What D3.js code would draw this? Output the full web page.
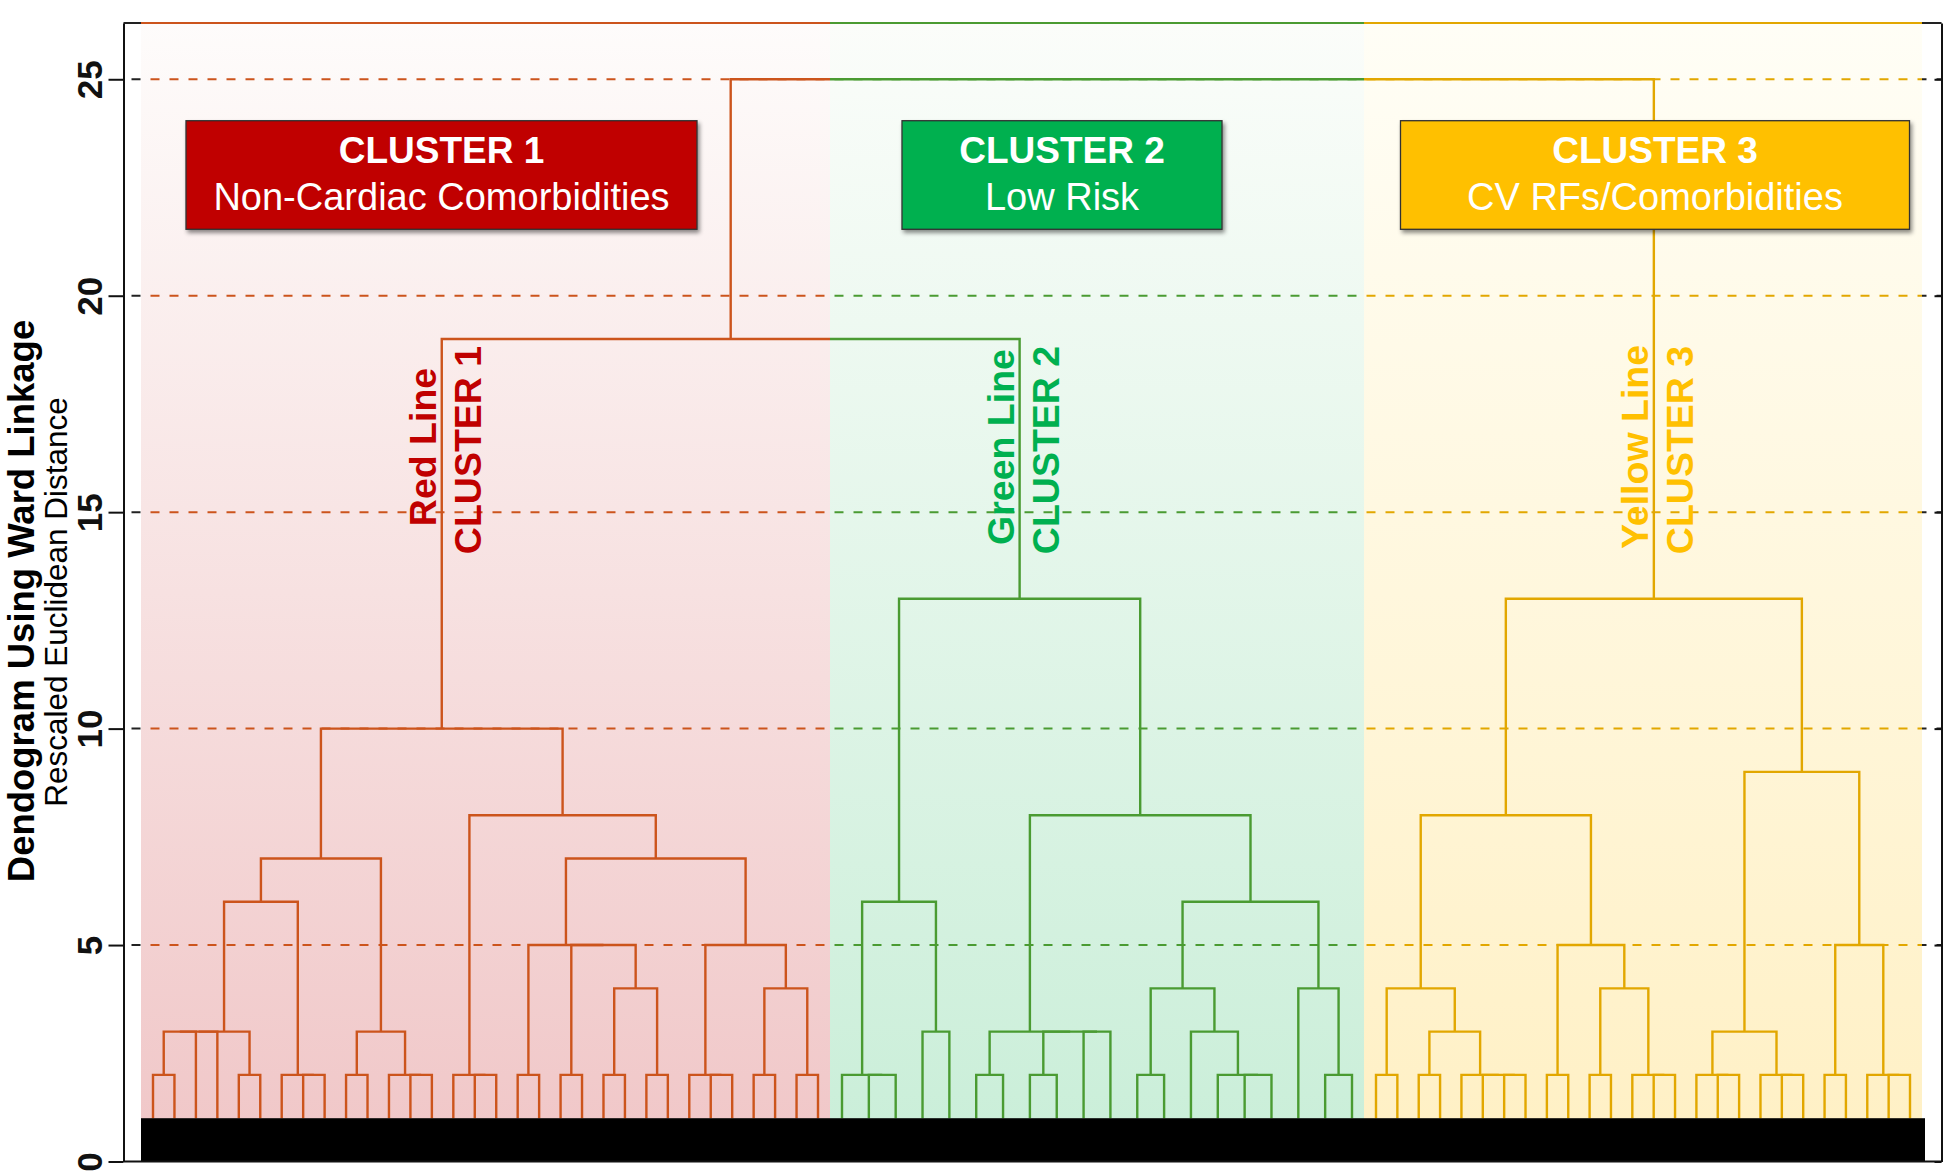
<!DOCTYPE html>
<html><head><meta charset="utf-8">
<script src="https://cdn.jsdelivr.net/npm/d3@7"></script>
<style>
html,body{margin:0;padding:0;background:#fff;}
svg{display:block;font-family:"Liberation Sans", Arial, Helvetica, sans-serif;}
</style></head><body>
<svg id="chart" width="1946" height="1172"></svg>
<script>
// ---------------- DATA ----------------
const clusterNames = ["CLUSTER 1", "CLUSTER 2", "CLUSTER 3"];
const clusterDescriptions = ["Non-Cardiac Comorbidities", "Low Risk", "CV RFs/Comorbidities"];
const lineLabels = ["Red Line", "Green Line", "Yellow Line"];
const leafCounts = [32, 20, 26];
// merge trees: [mergeHeight, left, right]; numbers are leaf indices within the cluster
const cluster1Tree = [10,
  [7,
    [6,
      [3, [3, [3, [2, 0, 1], 2], 3], [2, 4, 5]],
      [2, 6, [2, 7, 8]]],
    [3, [2, 9, 10], [2, 11, [2, 12, 13]]]],
  [8,
    [2, 14, [2, 15, 16]],
    [7,
      [5, [2, 17, 18], [5, [2, 19, 20], [4, [2, 21, 22], [2, 23, 24]]]],
      [5, [2, 25, [2, 26, 27]], [4, [2, 28, 29], [2, 30, 31]]]]]];
const cluster2Tree = [13,
  [6, [2, 0, [2, 1, 2]], [3, 3, 4]],
  [8,
    [3, [2, 5, 6], [3, [2, 7, 8], [3, 9, 10]]],
    [6,
      [4, [2, 11, 12], [3, 13, [2, 14, [2, 15, 16]]]],
      [4, 17, [2, 18, 19]]]]];
const cluster3Tree = [13,
  [8,
    [4, [2, 0, 1], [3, [2, 2, 3], [2, 4, [2, 5, [2, 6, 7]]]]],
    [5, [2, 8, 9], [4, [2, 10, 11], [2, 12, [2, 13, 14]]]]],
  [9,
    [3, [2, 15, [2, 16, 17]], [2, 18, [2, 19, 20]]],
    [5, [2, 21, 22], [2, 23, [2, 24, 25]]]]];
const joinHeights = [19, 25];   // cluster1+cluster2, then +cluster3
const leafHeight = 1;
const yTicks = [0, 5, 10, 15, 20, 25];
const gridValues = [5, 10, 15, 20, 25];
const yMax = 26.3;
const yTitle = "Dendogram Using Ward Linkage";
const ySubtitle = "Rescaled Euclidean Distance";

// ---------------- LAYOUT / STYLE ----------------
const axisLeft = 123.5, axisRight = 1941.5;
const regionEdges = [141, 830, 1364, 1922];
const barRight = 1925;
const leafInset = 12;
const lineColors = ["#cc541c", "#4a9b32", "#e2a700"];
const textColors = ["#c00000", "#00b050", "#ffc000"];
const boxFills = ["#c00000", "#00b050", "#ffc000"];
const bgTop = ["#fefcfb", "#fbfdfa", "#fffef6"];
const bgBottom = ["#f0c6c7", "#c9eed8", "#fff0c4"];
const boxLayout = [{cx: 441.5, w: 511}, {cx: 1062, w: 320}, {cx: 1655, w: 509}];
const boxTop = 120.7, boxH = 108.6;

const svg = d3.select("#chart");
const defs = svg.append("defs");

const y = d3.scaleLinear().domain([0, yMax]).range([1161.5, 23]);

// gradients & clips
regionEdges.slice(0, 3).forEach((x0, k) => {
  const g = defs.append("linearGradient").attr("id", "bg" + k)
    .attr("x1", 0).attr("y1", 0).attr("x2", 0).attr("y2", 1);
  g.append("stop").attr("offset", "0%").attr("stop-color", bgTop[k]);
  g.append("stop").attr("offset", "100%").attr("stop-color", bgBottom[k]);
  defs.append("clipPath").attr("id", "clip" + k)
    .append("rect").attr("x", x0).attr("y", 0)
    .attr("width", regionEdges[k + 1] - x0).attr("height", 1172);
});
const outside = defs.append("clipPath").attr("id", "clipOut");
outside.append("rect").attr("x", 0).attr("y", 0).attr("width", regionEdges[0]).attr("height", 1172);
outside.append("rect").attr("x", regionEdges[3]).attr("y", 0).attr("width", 1946 - regionEdges[3]).attr("height", 1172);

const sh = defs.append("filter").attr("id", "shadow").attr("x", "-10%").attr("y", "-10%").attr("width", "130%").attr("height", "140%");
sh.append("feDropShadow").attr("dx", 2).attr("dy", 3).attr("stdDeviation", 2)
  .attr("flood-color", "#000").attr("flood-opacity", 0.45);

// backgrounds
regionEdges.slice(0, 3).forEach((x0, k) => {
  svg.append("rect").attr("x", x0).attr("y", y(yMax))
    .attr("width", regionEdges[k + 1] - x0).attr("height", y(0) - y(yMax))
    .attr("fill", `url(#bg${k})`);
});

// gridlines: dark outside the coloured regions, coloured inside
function gridLayer(g, color) {
  g.selectAll("line.grid").data(gridValues).join("line").attr("class", "grid")
    .attr("x1", axisLeft).attr("x2", axisRight)
    .attr("y1", d => y(d)).attr("y2", d => y(d))
    .attr("stroke", color).attr("stroke-width", 2)
    .attr("stroke-dasharray", "9 10").attr("stroke-dashoffset", 11);
  g.append("line").attr("x1", axisLeft).attr("x2", axisRight)
    .attr("y1", y(yMax)).attr("y2", y(yMax))
    .attr("stroke", color).attr("stroke-width", 2);
}
gridLayer(svg.append("g").attr("clip-path", "url(#clipOut)"), "#222");
[0, 1, 2].forEach(k => gridLayer(svg.append("g").attr("clip-path", `url(#clip${k})`), lineColors[k]));

// build dendrogram
const trees = [cluster1Tree, cluster2Tree, cluster3Tree];
function build(t, xs) {
  if (typeof t === "number") return {h: leafHeight, x: xs(t)};
  const l = build(t[1], xs), r = build(t[2], xs);
  return {h: t[0], x: (l.x + r.x) / 2, children: [l, r]};
}
const clusterRoots = trees.map((t, k) => {
  const xs = d3.scalePoint().domain(d3.range(leafCounts[k]))
    .range([regionEdges[k] + leafInset, regionEdges[k + 1] - leafInset]);
  return build(t, xs);
});
const n12 = {h: joinHeights[0], x: (clusterRoots[0].x + clusterRoots[1].x) / 2, children: [clusterRoots[0], clusterRoots[1]]};
const root = {h: joinHeights[1], x: (n12.x + clusterRoots[2].x) / 2, children: [n12, clusterRoots[2]]};

const links = [];
(function walk(n) {
  if (!n.children) return;
  const [l, r] = n.children;
  links.push(`M${l.x},${y(l.h)}V${y(n.h)}H${r.x}V${y(r.h)}`);
  walk(l); walk(r);
})(root);

[0, 1, 2].forEach(k => {
  svg.append("g").attr("clip-path", `url(#clip${k})`)
    .selectAll("path").data(links).join("path")
    .attr("d", d => d).attr("fill", "none")
    .attr("stroke", lineColors[k]).attr("stroke-width", 2.4)
    .attr("stroke-linejoin", "miter");
});

// black baseline bar
svg.append("rect").attr("x", regionEdges[0]).attr("y", y(leafHeight))
  .attr("width", barRight - regionEdges[0]).attr("height", y(0) - y(leafHeight))
  .attr("fill", "#000");

// axes
const axL = svg.append("g").attr("transform", `translate(${axisLeft},0)`)
  .call(d3.axisLeft(y).tickValues(yTicks).tickSize(15).tickSizeOuter(0).tickFormat(d3.format("d")));
axL.select(".domain").attr("stroke", "#111").attr("stroke-width", 2);
axL.selectAll(".tick line").attr("stroke", "#111").attr("stroke-width", 2);
axL.selectAll(".tick text")
  .attr("x", null).attr("dy", null).attr("y", null)
  .attr("transform", "translate(-21.8,0) rotate(-90)")
  .attr("text-anchor", "middle")
  .attr("font-family", "'Liberation Sans', Arial, sans-serif")
  .attr("font-size", 35).attr("font-weight", "bold").attr("fill", "#111");
const axR = svg.append("g").attr("transform", `translate(${axisRight},0)`)
  .call(d3.axisRight(y).tickValues(yTicks).tickSize(-7).tickSizeOuter(0).tickFormat(""));
axR.select(".domain").attr("stroke", "#111").attr("stroke-width", 2);
axR.selectAll(".tick line").attr("stroke", "#111").attr("stroke-width", 2);
svg.append("line").attr("x1", axisLeft).attr("x2", axisRight)
  .attr("y1", y(0)).attr("y2", y(0)).attr("stroke", "#111").attr("stroke-width", 2);

// axis titles
svg.append("text").attr("transform", `translate(34,601) rotate(-90)`)
  .attr("text-anchor", "middle").attr("font-size", 36.5).attr("font-weight", "bold")
  .attr("fill", "#000").text(yTitle);
svg.append("text").attr("transform", `translate(67,602) rotate(-90)`)
  .attr("text-anchor", "middle").attr("font-size", 31.5)
  .attr("fill", "#000").text(ySubtitle);

// rotated cluster labels next to each cluster's top stem
clusterRoots.forEach((n, k) => {
  svg.append("text").attr("transform", `translate(${n.x - 5.5},447) rotate(-90)`)
    .attr("text-anchor", "middle").attr("font-size", 37.5).attr("font-weight", "bold")
    .attr("fill", textColors[k]).text(lineLabels[k]);
  svg.append("text").attr("transform", `translate(${n.x + 39.5},450) rotate(-90)`)
    .attr("text-anchor", "middle").attr("font-size", 37.5).attr("font-weight", "bold")
    .attr("fill", textColors[k]).text(clusterNames[k]);
});

// cluster boxes
boxLayout.forEach((b, k) => {
  const g = svg.append("g");
  g.append("rect").attr("x", b.cx - b.w / 2).attr("y", boxTop)
    .attr("width", b.w).attr("height", boxH)
    .attr("fill", boxFills[k]).attr("stroke", "#333").attr("stroke-width", 1.3)
    .attr("filter", "url(#shadow)");
  g.append("text").attr("x", b.cx).attr("y", 163).attr("text-anchor", "middle")
    .attr("font-size", 37).attr("font-weight", "bold").attr("fill", "#fff")
    .text(clusterNames[k]);
  g.append("text").attr("x", b.cx).attr("y", 210).attr("text-anchor", "middle")
    .attr("font-size", 38).attr("fill", "#fff")
    .text(clusterDescriptions[k]);
});
</script>
</body></html>
